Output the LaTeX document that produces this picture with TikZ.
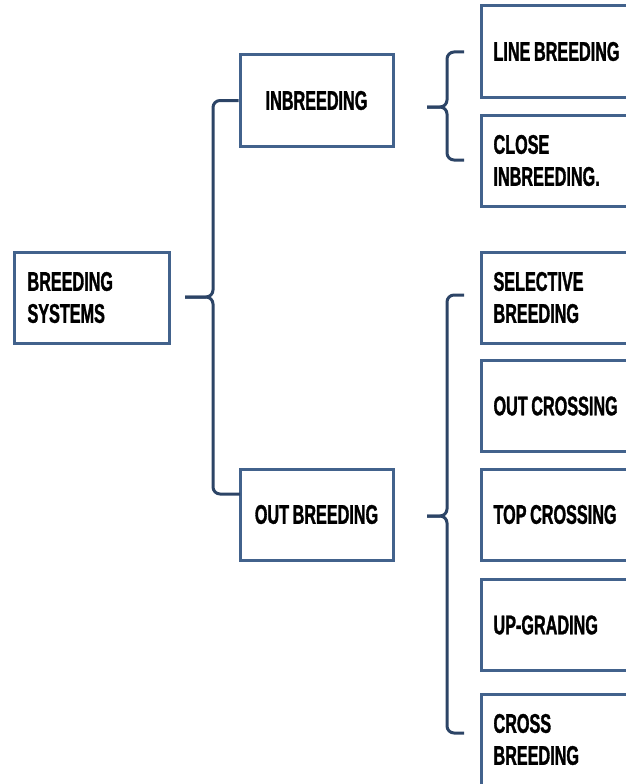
\documentclass[tikz,border=0pt]{standalone}
\usepackage{fontspec}
\setmainfont[FakeStretch=0.6,WordSpace=0.8,FakeBold=1.2]{Liberation Sans}
\usepackage{tikz}
\usepackage{xcolor}
\definecolor{boxblue}{RGB}{66,98,140}
\definecolor{bracenavy}{RGB}{44,68,102}

\begin{document}
\begin{tikzpicture}[x=1pt,y=-1pt,
  box/.style={draw=boxblue,line width=3pt,minimum height=91pt,
    font=\fontsize{27}{32}\selectfont\bfseries},
  midbox/.style={box,minimum width=153pt,align=center},
  leafbox/.style={box,anchor=west,text width=176pt,inner xsep=12pt,align=flush left},
  brace/.style={draw=bracenavy,line width=3pt,rounded corners=7pt}]
\useasboundingbox (0,0) rectangle (626,784);
% boxes
\node[box,anchor=west,text width=129pt,inner xsep=13pt,align=flush left] (sys) at (13,297.5) {BREEDING\\SYSTEMS};
\node[midbox] (inb) at (316.5,100.5) {INBREEDING};
\node[midbox] (outb) at (316.5,514.5) {OUT BREEDING};
\node[leafbox] (line) at (480,51.5) {LINE BREEDING};
\node[leafbox] (close) at (480,160.5) {CLOSE\\INBREEDING.};
\node[leafbox] (sel) at (480,297.5) {SELECTIVE\\BREEDING};
\node[leafbox] (oc) at (480,406) {OUT CROSSING};
\node[leafbox] (tc) at (480,514.5) {TOP CROSSING};
\node[leafbox] (ug) at (480,625) {UP-GRADING};
\node[leafbox] (cb) at (480,739.5) {CROSS\\BREEDING};
% braces
\coordinate (b1) at (213,297);
\coordinate (t1) at (185,297);
\coordinate (e1) at (240,494);
\draw[brace] (inb.west) -| (b1) -- (t1);
\draw[brace] (e1) -| (b1) -- (t1);
\coordinate (b2) at (447,107);
\coordinate (t2) at (427,107);
\coordinate (e2a) at (464,52);
\coordinate (e2b) at (464,160);
\draw[brace] (e2a) -| (b2) -- (t2);
\draw[brace] (e2b) -| (b2) -- (t2);
\coordinate (b3) at (447,516);
\coordinate (t3) at (427,516);
\coordinate (e3a) at (464,295);
\coordinate (e3b) at (464,733);
\draw[brace] (e3a) -| (b3) -- (t3);
\draw[brace] (e3b) -| (b3) -- (t3);
\end{tikzpicture}
\end{document}
